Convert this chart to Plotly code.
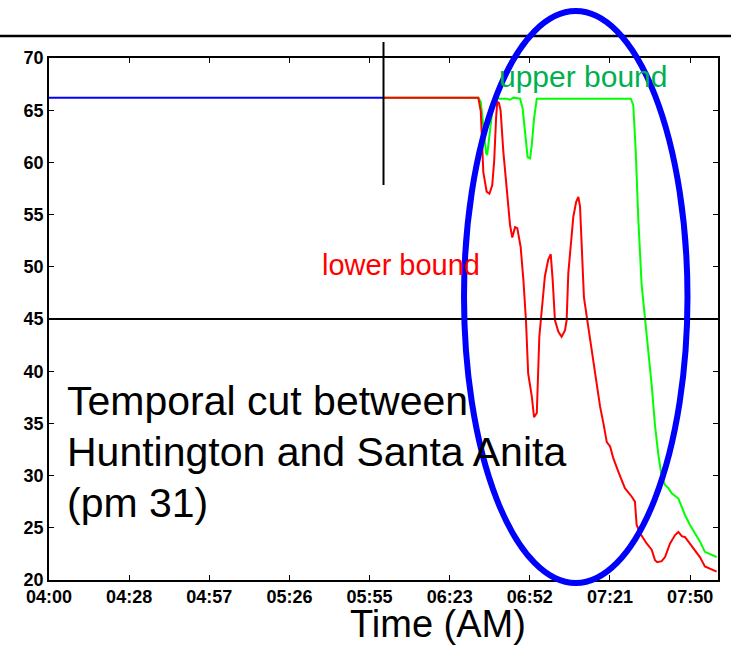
import plotly.graph_objects as go

# Time axis: minutes after 04:00
tick_minutes = [0, 28.75, 57.5, 86.25, 115, 143.75, 172.5, 201.25, 230]
tick_labels = ["04:00", "04:28", "04:57", "05:26", "05:55", "06:23", "06:52", "07:21", "07:50"]
y_ticks = [20, 25, 30, 35, 40, 45, 50, 55, 60, 65, 70]

# Speed before the cut time (single estimate)
before_t = [0, 120]
before_v = [66.2, 66.2]

# Upper bound after the cut
upper_t = [120, 154.0, 154.9, 155.8, 156.8, 157.2, 158.0, 158.8, 159.4, 160.4, 161.8,
           164.2, 165.4, 166.6, 169.0, 169.9, 170.8, 171.7, 172.6, 173.2, 174.0, 175.0,
           208.7, 209.6, 210.5, 211.4, 212.6, 213.8, 215.0, 216.2, 217.4, 218.6, 219.8,
           221.0, 222.2, 223.4, 225.8, 227.0, 228.2, 229.9, 231.7, 233.5, 235.3, 237.1, 239.5]
upper_v = [66.2, 66.2, 65.8, 63.6, 60.9, 60.7, 62.6, 64.9, 65.8, 66.2, 66.1,
           66.1, 66.0, 66.2, 66.1, 65.2, 62.9, 60.5, 60.4, 61.7, 64.2, 66.1,
           66.1, 65.5, 61.0, 54.6, 48.3, 45.1, 42.2, 38.7, 34.8, 32.0, 29.9,
           29.1, 28.8, 28.3, 27.8, 26.9, 26.2, 25.3, 24.5, 23.7, 22.7, 22.5, 22.2]

# Lower bound after the cut
lower_t = [120, 154.0, 154.9, 155.4, 155.8, 157.0, 158.0, 159.0, 159.7, 160.4, 160.8,
           161.4, 162.0, 163.0, 164.2, 165.4, 166.2, 167.2, 168.0, 169.2, 170.2, 171.1,
           171.9, 173.2, 174.0, 175.0, 175.9, 176.8, 177.9, 179.1, 180.0, 180.7, 181.5,
           182.7, 183.9, 185.1, 185.7, 186.3, 187.2, 188.1, 189.1, 189.9, 190.5, 191.1,
           191.9, 193.1, 194.3, 195.9, 197.1, 197.7, 198.9, 200.1, 201.3, 202.4, 204.2,
           206.6, 209.0, 210.2, 210.8, 212.0, 214.4, 216.2, 217.4, 218.2, 219.8, 221.0,
           222.8, 224.6, 225.8, 227.0, 228.2, 229.9, 232.4, 233.5, 235.3, 237.1, 239.5]
lower_v = [66.2, 66.2, 64.9, 61.0, 59.1, 57.2, 57.0, 57.8, 60.1, 64.3, 65.8,
           65.7, 65.0, 61.0, 57.2, 54.0, 52.8, 53.8, 53.7, 51.9, 48.7, 44.9,
           39.8, 37.6, 35.6, 36.0, 43.3, 45.9, 49.1, 50.7, 51.2, 48.7, 44.9,
           43.8, 43.3, 43.9, 44.9, 49.4, 51.9, 54.8, 56.2, 56.7, 55.8, 51.9,
           47.1, 44.9, 42.7, 40.1, 37.6, 36.6, 35.0, 33.2, 32.8, 31.7, 30.4,
           28.8, 28.0, 27.5, 25.3, 24.5, 23.5, 22.9, 21.9, 21.7, 21.8, 22.2,
           23.5, 24.3, 24.6, 24.2, 24.1, 23.5, 22.7, 22.2, 21.3, 21.1, 20.8]

cut_time = 120
threshold = 45

W, H = 731, 647
L, R, T, B = 49, 13, 58, 67
PW, PH = W - L - R, H - T - B


def px(x):
    return (x - L) / PW


def py(y):
    return (H - B - y) / PH


fig = go.Figure()
fig.add_trace(go.Scatter(x=before_t, y=before_v, mode="lines",
                         line=dict(color="#0000FF", width=2), showlegend=False))
fig.add_trace(go.Scatter(x=upper_t, y=upper_v, mode="lines",
                         line=dict(color="#00FF00", width=2), showlegend=False))
fig.add_trace(go.Scatter(x=lower_t, y=lower_v, mode="lines",
                         line=dict(color="#FF0000", width=2), showlegend=False))

shapes = [
    # threshold line
    dict(type="line", xref="paper", yref="y", x0=0, x1=1, y0=threshold, y1=threshold,
         line=dict(color="black", width=2)),
    # cut time marker
    dict(type="line", xref="x", yref="paper", x0=cut_time, x1=cut_time,
         y0=py(185), y1=py(42), line=dict(color="black", width=2)),
    # rule across the top
    dict(type="line", xref="paper", yref="paper", x0=px(0), x1=px(W),
         y0=py(36), y1=py(36), line=dict(color="black", width=2.5)),
    # highlight ellipse
    dict(type="circle", xref="paper", yref="paper", x0=px(464), x1=px(687.5),
         y0=py(583), y1=py(11), line=dict(color="#0000FF", width=6)),
]

ann_font = "Liberation Sans, Arial, sans-serif"
annotations = [
    dict(text="upper bound", x=px(498), y=py(77), xanchor="left", yanchor="middle",
         font=dict(family=ann_font, size=30, color="#00B050")),
    dict(text="lower bound", x=px(321), y=py(265), xanchor="left", yanchor="middle",
         font=dict(family=ann_font, size=29, color="#FF0000")),
    dict(text="Temporal cut between", x=px(66), y=py(401), xanchor="left", yanchor="middle",
         font=dict(family=ann_font, size=41, color="black")),
    dict(text="Huntington and Santa Anita", x=px(66), y=py(452), xanchor="left", yanchor="middle",
         font=dict(family=ann_font, size=41, color="black")),
    dict(text="(pm 31)", x=px(66), y=py(503), xanchor="left", yanchor="middle",
         font=dict(family=ann_font, size=41, color="black")),
    dict(text="Time (AM)", x=px(438), y=py(624), xanchor="center", yanchor="middle",
         font=dict(family=ann_font, size=38, color="black")),
]
for a in annotations:
    a.update(xref="paper", yref="paper", showarrow=False, borderpad=0)

tick_font = dict(family="Liberation Sans, Arial, sans-serif", size=18, color="black",
                 weight="bold")

fig.update_layout(
    width=W, height=H,
    margin=dict(l=L, r=R, t=T, b=B, pad=0),
    paper_bgcolor="white", plot_bgcolor="white",
    shapes=shapes, annotations=annotations,
    xaxis=dict(range=[0, 240], tickmode="array", tickvals=tick_minutes, ticktext=tick_labels,
               ticks="inside", ticklen=5, tickcolor="black", tickwidth=1,
               showline=True, linecolor="black", linewidth=1.5, mirror="ticks",
               showgrid=False, zeroline=False, tickfont=tick_font),
    yaxis=dict(range=[20, 70], tickmode="array", tickvals=y_ticks,
               ticks="inside", ticklen=5, tickcolor="black", tickwidth=1,
               showline=True, linecolor="black", linewidth=1.5, mirror="ticks",
               showgrid=False, zeroline=False, tickfont=tick_font),
)

fig.write_html("out.html")
